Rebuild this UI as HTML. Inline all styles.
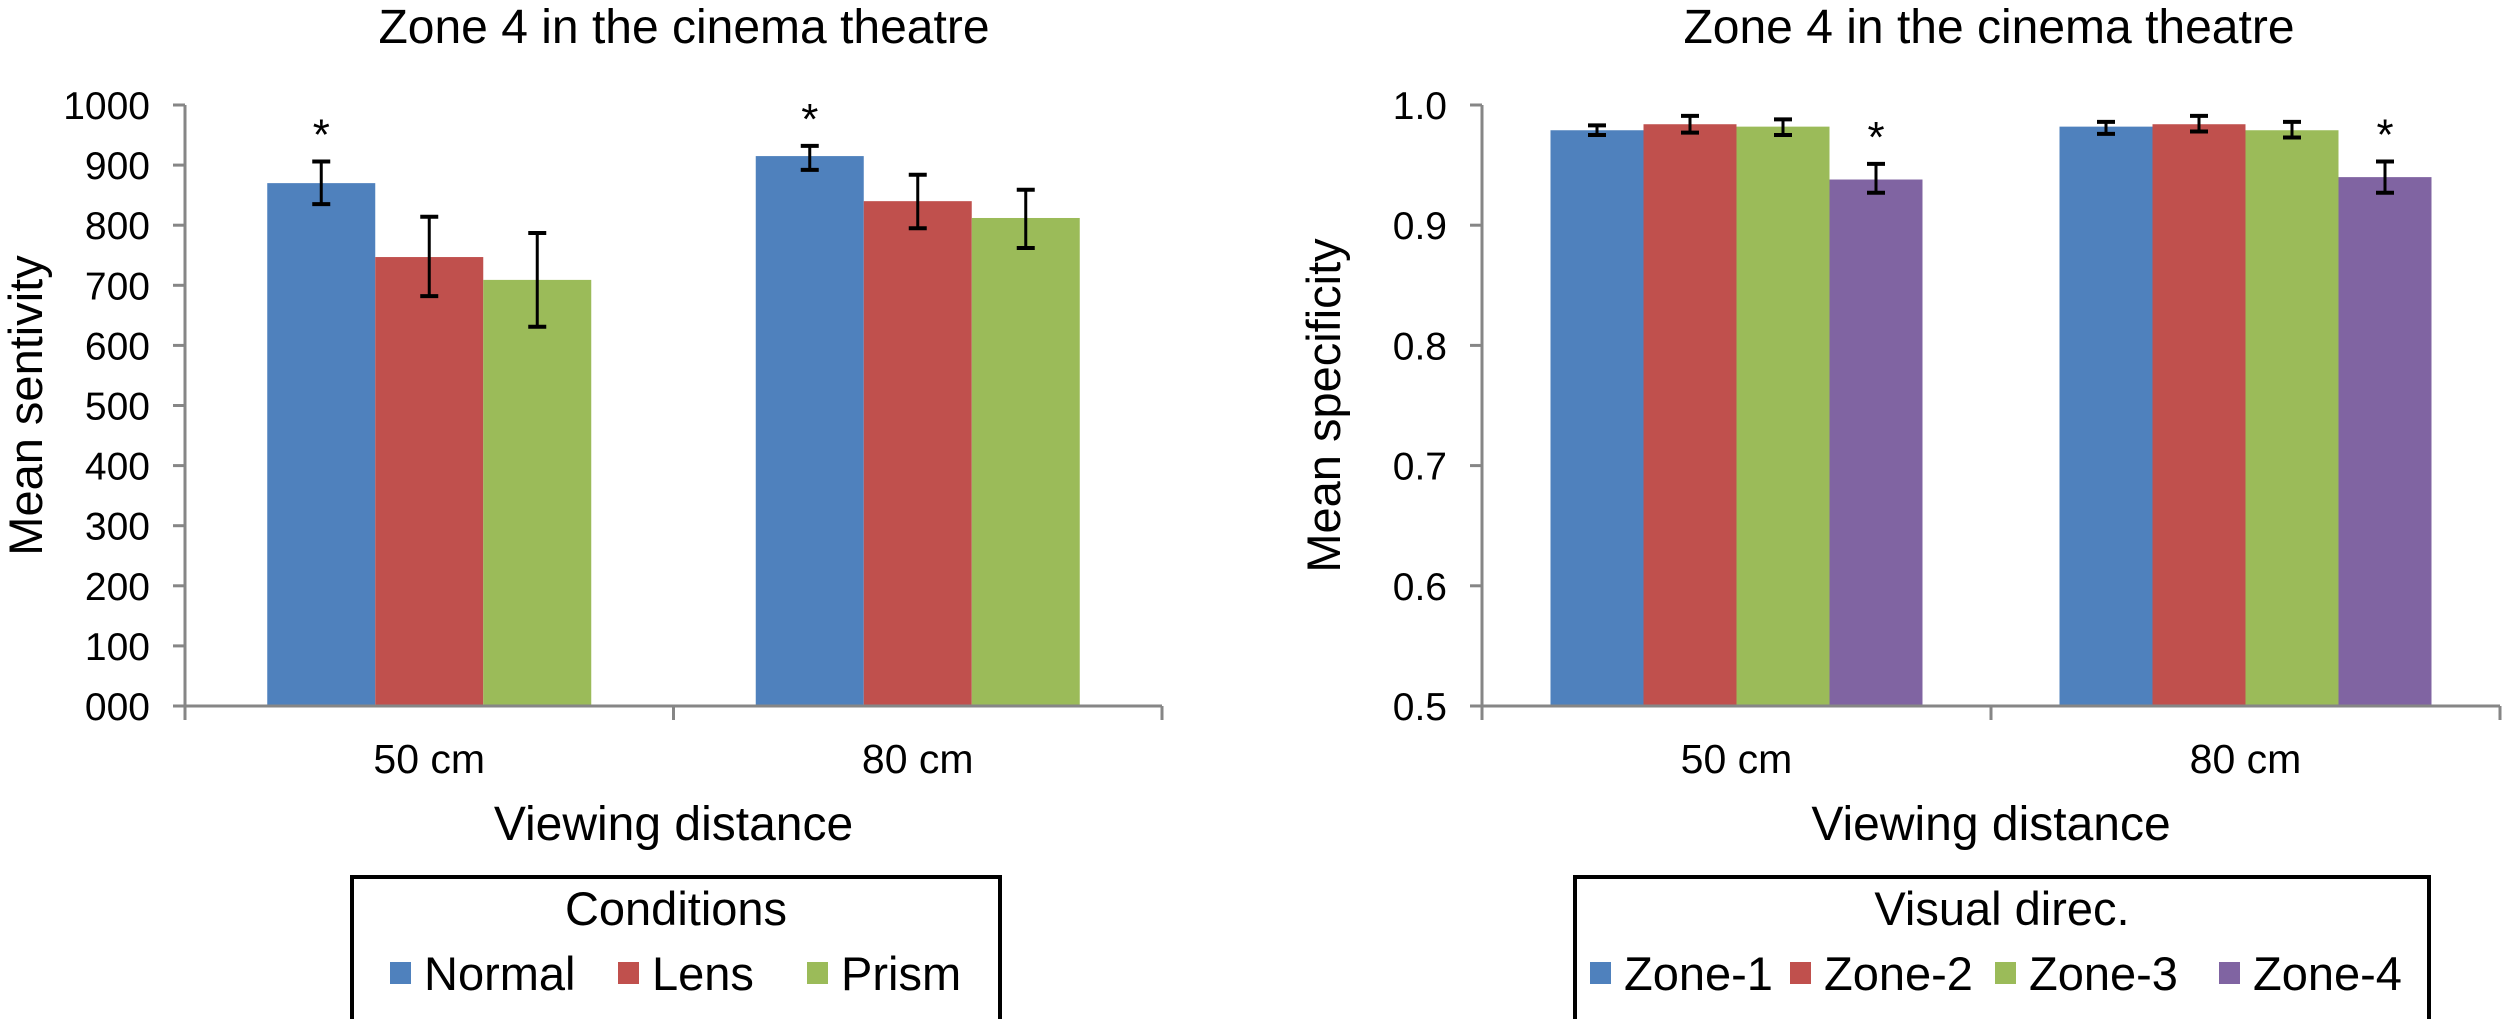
<!DOCTYPE html>
<html><head><meta charset="utf-8"><style>
html,body{margin:0;padding:0;background:#fff;}
svg{display:block;font-family:"Liberation Sans",Arial,sans-serif;}
</style></head><body>
<svg id="chart" width="2503" height="1019" viewBox="0 0 2503 1019" xmlns="http://www.w3.org/2000/svg"></svg>
<script>
// Left chart data
const leftCategories = ["50 cm", "80 cm"];
const leftSeries = ["Normal", "Lens", "Prism"];
const leftValues = [[870, 747, 709], [915, 840, 812]];
const leftErrLow = [[835, 682, 631], [892, 795, 762]];
const leftErrHigh = [[906, 814, 787], [932, 884, 859]];
const leftStars = [[true, false, false], [true, false, false]];
const leftTicks = ["000", "100", "200", "300", "400", "500", "600", "700", "800", "900", "1000"];
const leftTickValues = [0, 100, 200, 300, 400, 500, 600, 700, 800, 900, 1000];
// Right chart data
const rightCategories = ["50 cm", "80 cm"];
const rightSeries = ["Zone-1", "Zone-2", "Zone-3", "Zone-4"];
const rightValues = [[0.979, 0.984, 0.982, 0.938], [0.982, 0.984, 0.979, 0.940]];
const rightErrLow = [[0.975, 0.977, 0.975, 0.927], [0.976, 0.978, 0.973, 0.927]];
const rightErrHigh = [[0.983, 0.991, 0.988, 0.951], [0.986, 0.991, 0.986, 0.953]];
const rightStars = [[false, false, false, true], [false, false, false, true]];
const rightTicks = ["0.5", "0.6", "0.7", "0.8", "0.9", "1.0"];
const rightTickValues = [0.5, 0.6, 0.7, 0.8, 0.9, 1.0];

const COLORS = ["#4F81BD", "#C0504D", "#9BBB59", "#8064A2"];
const NS = "http://www.w3.org/2000/svg";
const svg = document.getElementById("chart");

function mk(tag, attrs, parent, text) {
  const e = document.createElementNS(NS, tag);
  for (const k in attrs) e.setAttribute(k, attrs[k]);
  if (text !== undefined) e.textContent = text;
  (parent || svg).appendChild(e);
  return e;
}

function drawChart(cfg) {
  const g = mk("g", {});
  
  
  const y = v => cfg.y0 - (v - cfg.vmin) / (cfg.vmax - cfg.vmin) * (cfg.y0 - cfg.y1);
  const title = mk("text", {x: cfg.titleX, y: 43, "font-size": 48, "text-anchor": "middle", fill: "#000"}, g, "Zone 4 in the cinema theatre");
  
  
  // y axis
  const ax = mk("line", {x1: cfg.ax, y1: cfg.y1, x2: cfg.ax, y2: cfg.y0, stroke: "#868686", "stroke-width": 3}, g);
  
  
  cfg.tickValues.forEach((tv, i) => {
    const ty = y(tv);
    const tk = mk("line", {x1: cfg.ax - 12, y1: ty, x2: cfg.ax, y2: ty, stroke: "#868686", "stroke-width": 3}, g);
    
    
    const tl = mk("text", {x: cfg.ax - 35, y: ty + 14, "font-size": 39, "text-anchor": "end", fill: "#000"}, g, cfg.ticks[i]);
    
    
  });
  const yt = mk("text", {x: 0, y: 0, "font-size": 47, "text-anchor": "middle", fill: "#000", transform: `translate(${cfg.ytX},${(cfg.y0 + cfg.y1) / 2}) rotate(-90)`}, g, cfg.yTitle);
  
  
  // x axis
  const xa = mk("line", {x1: cfg.ax, y1: cfg.y0, x2: cfg.axEnd, y2: cfg.y0, stroke: "#868686", "stroke-width": 3}, g);
  
  
  const n = cfg.categories.length;
  const span = (cfg.axEnd - cfg.ax) / n;
  for (let i = 0; i <= n; i++) {
    const tx = cfg.ax + span * i;
    const t = mk("line", {x1: tx, y1: cfg.y0, x2: tx, y2: cfg.y0 + 14, stroke: "#868686", "stroke-width": 3}, g);
    
    
  }
  const ns = cfg.series.length;
  cfg.categories.forEach((cat, ci) => {
    const cx = cfg.ax + span * (ci + 0.5);
    const start = cx - cfg.bw * ns / 2;
    cfg.series.forEach((s, si) => {
      const v = cfg.values[ci][si];
      const bx = start + si * cfg.bw;
      const r = mk("rect", {x: bx, y: y(v), width: cfg.bw, height: cfg.y0 - y(v) - 1.5, fill: COLORS[si]}, g);
      
      
      const mx = bx + cfg.bw / 2;
      const hi = y(cfg.errHigh[ci][si]), lo = y(cfg.errLow[ci][si]);
      const eg = mk("g", {stroke: "#000", "stroke-width": 3}, g);
      
      
      mk("line", {x1: mx, y1: hi, x2: mx, y2: lo}, eg);
      mk("line", {x1: mx - 9, y1: hi, x2: mx + 9, y2: hi, "stroke-width": 4}, eg);
      mk("line", {x1: mx - 9, y1: lo, x2: mx + 9, y2: lo, "stroke-width": 4}, eg);
      if (cfg.stars[ci][si]) {
        const st = mk("text", {x: mx, y: hi - 12, "font-size": 44, "text-anchor": "middle", fill: "#000"}, g, "*");
        
        
      }
    });
    const cl = mk("text", {x: cx, y: 773, "font-size": 41, "text-anchor": "middle", fill: "#000"}, g, cat);
    
    
  });
  const xt = mk("text", {x: (cfg.ax + cfg.axEnd) / 2, y: 840, "font-size": 48, "text-anchor": "middle", fill: "#000"}, g, "Viewing distance");
  
  
  // legend
  const lg = mk("g", {}, g);
  
  
  mk("rect", {x: cfg.legX, y: 877, width: cfg.legW, height: 150, fill: "#fff", stroke: "#000", "stroke-width": 4}, lg);
  const lt = mk("text", {x: cfg.legX + cfg.legW / 2, y: 925, "font-size": 47, "text-anchor": "middle", fill: "#000"}, lg, cfg.legTitle);
  
  
  cfg.series.forEach((s, si) => {
    const e = mk("g", {}, lg);
    
    
    mk("rect", {x: cfg.legSq[si], y: 962, width: 21, height: 22, fill: COLORS[si]}, e);
    mk("text", {x: cfg.legSq[si] + 34, y: 990, "font-size": 47, fill: "#000"}, e, s);
  });
}

drawChart({name: "left-chart", titleX: 684, ax: 185, axEnd: 1162, y0: 706, y1: 105, vmin: 0, vmax: 1000,
  bw: 108, categories: leftCategories, series: leftSeries, values: leftValues, errLow: leftErrLow, errHigh: leftErrHigh,
  stars: leftStars, ticks: leftTicks, tickValues: leftTickValues, yTitle: "Mean sentivity", ytX: 42,
  legX: 352, legW: 648, legTitle: "Conditions", legSq: [390, 618, 807]});
drawChart({name: "right-chart", titleX: 1989, ax: 1482, axEnd: 2500, y0: 706, y1: 105, vmin: 0.5, vmax: 1.0,
  bw: 93, categories: rightCategories, series: rightSeries, values: rightValues, errLow: rightErrLow, errHigh: rightErrHigh,
  stars: rightStars, ticks: rightTicks, tickValues: rightTickValues, yTitle: "Mean specificity", ytX: 1340,
  legX: 1575, legW: 854, legTitle: "Visual direc.", legSq: [1590, 1790, 1995, 2219]});
</script>
</body></html>
